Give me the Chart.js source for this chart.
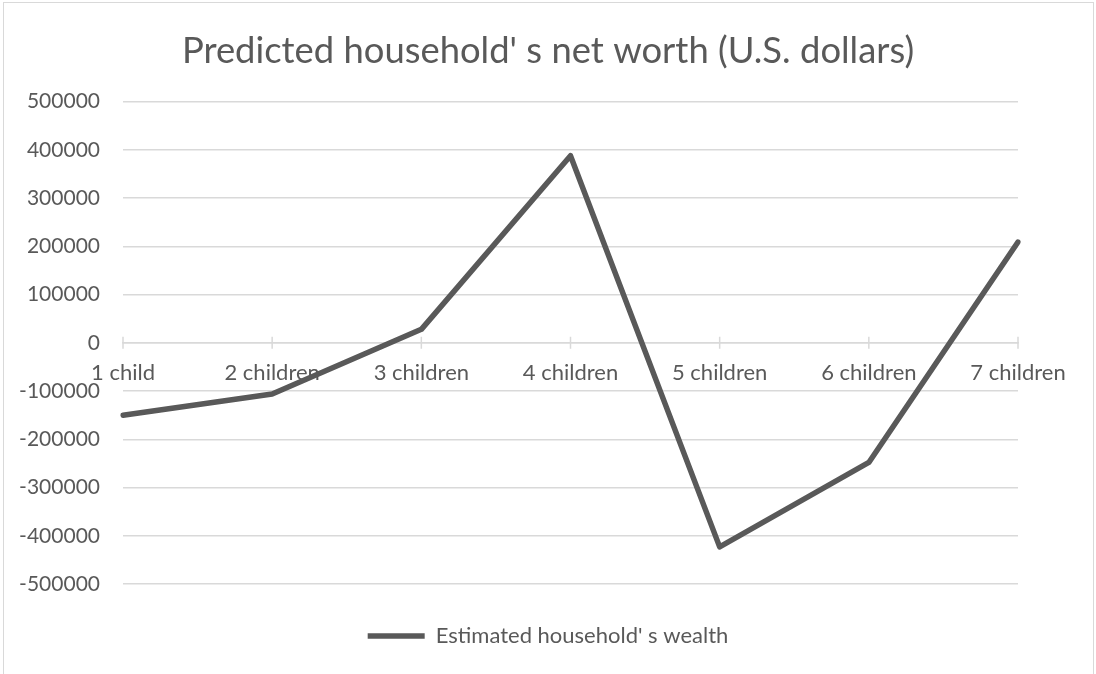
<!DOCTYPE html>
<html>
<head>
<meta charset="utf-8">
<script src="https://cdn.jsdelivr.net/npm/chart.js@4.4.1/dist/chart.umd.min.js"></script>
<style>
  body { margin: 0; background: #fff; }
  #wrap { position: relative; width: 1096px; height: 674px; overflow: hidden; }
  #frame { position: absolute; left: 3px; top: 2px; width: 1089px; height: 700px; border: 1px solid #d9d9d9; pointer-events: none; }
</style>
</head>
<body>
<div id="wrap">
  <canvas id="lineChart" width="1096" height="674"></canvas>
  <div id="frame"></div>
</div>
<script>
// Household wealth by number of children
var categories = ["1 child", "2 children", "3 children", "4 children", "5 children", "6 children", "7 children"];
var wealth = [-150000, -106000, 28000, 388000, -423000, -248000, 209000];
var yMin = -500000;
var yMax = 500000;
var yStep = 100000;

var textColor = "#595959";
var gridColor = "#d9d9d9";
var fontFamily = "Lato, 'Open Sans', sans-serif";

// Short tick marks that cross the category axis at zero
var categoryTicks = {
  id: 'categoryTicks',
  beforeDatasetsDraw: function (chart) {
    var xs = chart.scales.x;
    var y0 = chart.scales.y.getPixelForValue(0);
    var ctx = chart.ctx;
    ctx.save();
    ctx.strokeStyle = gridColor;
    ctx.lineWidth = 1.5;
    ctx.beginPath();
    for (var i = 0; i < categories.length; i++) {
      var px = xs.getPixelForTick(i);
      ctx.moveTo(px, y0 - 6);
      ctx.lineTo(px, y0 + 6);
    }
    ctx.stroke();
    ctx.restore();
  }
};

var ctx = document.getElementById("lineChart");
var lineChart = new Chart(ctx, {
  type: 'line',
  data: {
    labels: categories,
    datasets: [
      {
        label: "Estimated household' s wealth",
        data: wealth,
        borderColor: textColor,
        backgroundColor: textColor,
        borderWidth: 5.5,
        borderCapStyle: 'round',
        borderJoinStyle: 'round',
        pointRadius: 0,
        tension: 0
      }
    ]
  },
  options: {
    responsive: false,
    animation: false,
    layout: { padding: { left: 0, right: 0, top: 0, bottom: 17 } },
    plugins: {
      title: {
        display: true,
        text: "Predicted household' s net worth (U.S. dollars)",
        color: textColor,
        font: { family: fontFamily, size: 36.4, weight: 'normal' },
        padding: { top: 29, bottom: 29 }
      },
      legend: {
        position: 'bottom',
        labels: {
          color: textColor,
          font: { family: fontFamily, size: 22 },
          usePointStyle: true,
          pointStyle: 'line',
          pointStyleWidth: 57,
          padding: 41
        }
      },
      tooltip: { enabled: false }
    },
    scales: {
      x: {
        position: { y: 0 },
        offset: false,
        grid: { display: false },
        border: { display: true, color: gridColor, width: 1.5 },
        ticks: {
          color: textColor,
          font: { family: fontFamily, size: 22 },
          padding: 9,
          maxRotation: 0,
          autoSkip: false
        }
      },
      y: {
        min: yMin,
        max: yMax,
        afterFit: function (scale) { scale.width = 123; },
        grid: { color: gridColor, lineWidth: 1.5, drawTicks: false },
        border: { display: false },
        ticks: {
          stepSize: yStep,
          color: textColor,
          font: { family: fontFamily, size: 21 },
          padding: 23,
          callback: function (v) { return String(v); }
        }
      },
      // empty right margin beside the plot
      yRight: {
        position: 'right',
        min: yMin,
        max: yMax,
        afterFit: function (scale) { scale.width = 78; },
        grid: { display: false },
        border: { display: false },
        ticks: { display: false }
      }
    }
  },
  plugins: [categoryTicks]
});
</script>
</body>
</html>
